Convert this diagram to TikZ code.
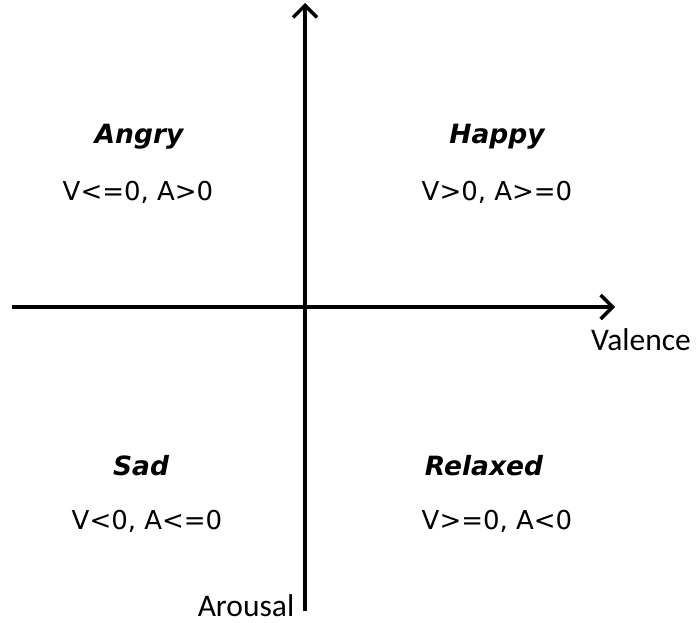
\documentclass[tikz,border=0pt]{standalone}
\usepackage{fontspec}
\setmainfont{DejaVu Sans}
\newfontfamily\axisfont{Carlito}
\usetikzlibrary{arrows.meta}
\tikzset{
  axis/.style={line width=3.2pt, -{Straight Barb[length=12pt, width=24pt, line width=3.4pt]}},
  mood/.style={font=\fontsize{26.5}{30}\selectfont\bfseries\itshape},
  rule/.style={font=\fontsize{26}{30}\selectfont},
  axislabel/.style={font=\axisfont\fontsize{31.5}{35}\selectfont, inner sep=0pt, anchor=base}
}
\begin{document}
\begin{tikzpicture}[x=1pt, y=-1pt]
  \useasboundingbox (0,0) rectangle (698,623);
  % los ejes
  \coordinate (vfrom) at (12,307);
  \coordinate (vto) at (615,307);
  \coordinate (afrom) at (305,611);
  \coordinate (ato) at (305,3);
  \draw[axis] (vfrom) -- (vto);
  \draw[axis] (afrom) -- (ato);
  \node[axislabel] (valence) at (641,350) {Valence};
  \node[axislabel] (arousal) at (246,616) {Arousal};
  % los cuatro cuadrantes
  \node[mood] (angry) at (139,137) {Angry};
  \node[rule] (angryrule) at (138,192) {V<=0, A>0};
  \node[mood] (happy) at (497,137) {Happy};
  \node[rule] (happyrule) at (497,192) {V>0, A>=0};
  \node[mood] (sad) at (141,466) {Sad};
  \node[rule] (sadrule) at (147,521) {V<0, A<=0};
  \node[mood] (relaxed) at (484,466) {Relaxed};
  \node[rule] (relaxedrule) at (497,521) {V>=0, A<0};
\end{tikzpicture}
\end{document}
